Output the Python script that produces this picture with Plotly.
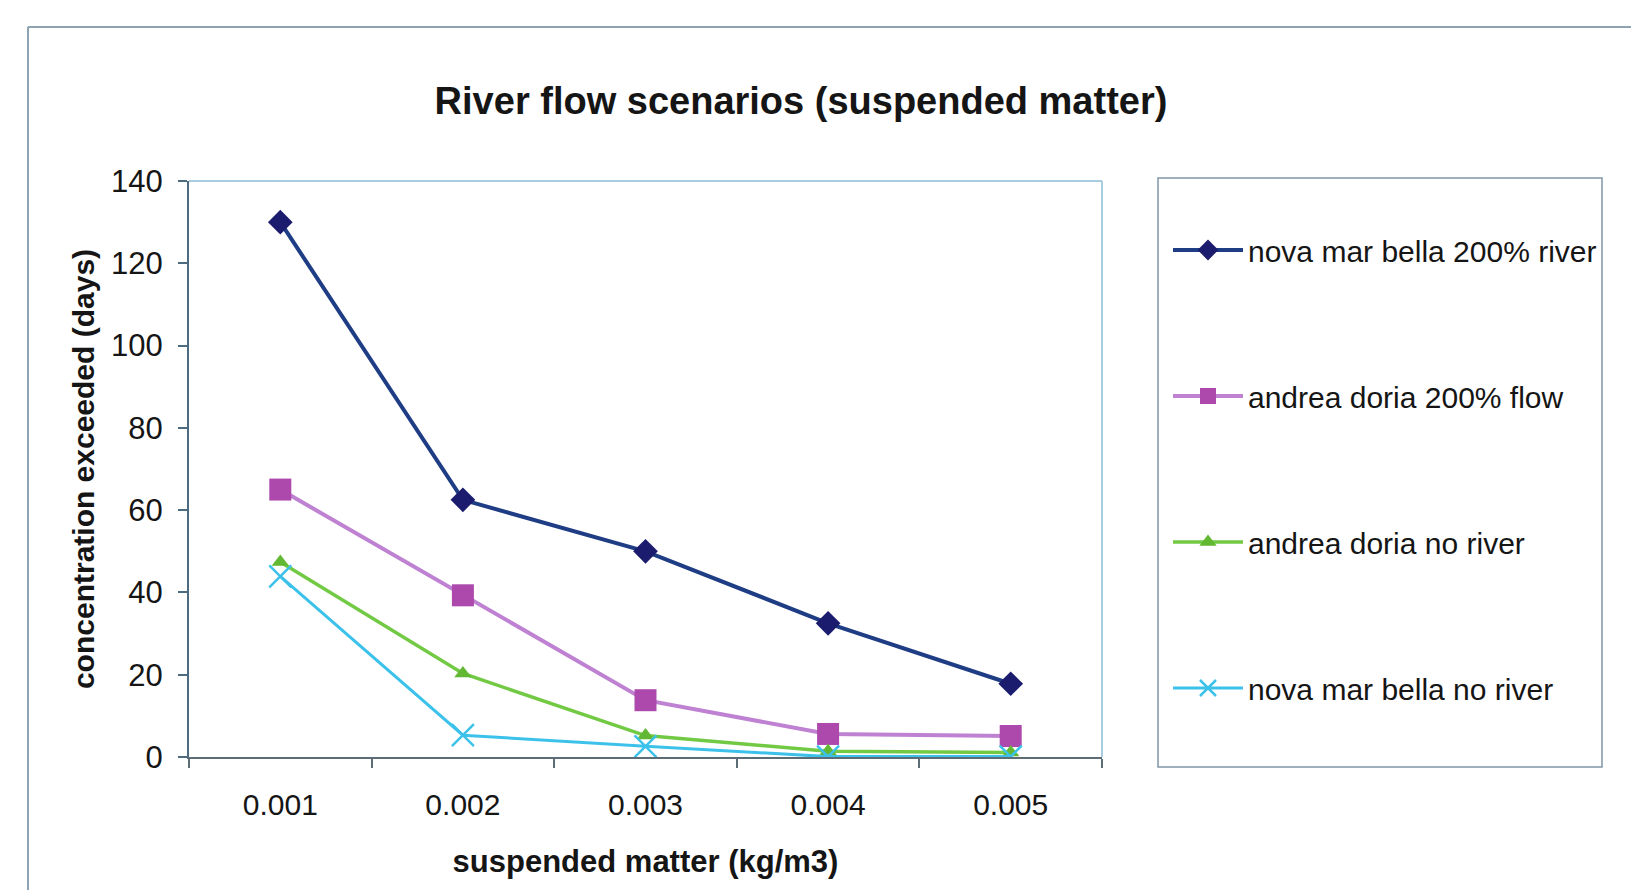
import plotly.graph_objects as go

# Suspended-matter thresholds (kg/m3) on the category axis
thresholds = ["0.001", "0.002", "0.003", "0.004", "0.005"]

# Days on which each concentration threshold is exceeded
nova_200_river = [130, 62.5, 50, 32.5, 17.8]
andrea_200_flow = [65, 39.3, 13.8, 5.6, 5.1]
andrea_no_river = [47.4, 20.3, 5.2, 1.4, 1.1]
nova_no_river = [43.9, 5.3, 2.6, 0.1, 0.1]

series_names = [
    "nova mar bella 200% river",
    "andrea doria 200% flow",
    "andrea doria no river",
    "nova mar bella no river",
]

W, H = 1631, 890
# plot-area edges in pixels
PL, PR, PT, PB = 189, 1102, 181, 757


def fx(px):
    return (px - PL) / (PR - PL)


def fy(py):
    return (PB - py) / (PB - PT)


FONT = "Liberation Sans, Arial, sans-serif"

styles = [
    dict(line=dict(color="#1f3d84", width=4),
         marker=dict(symbol="diamond", size=19, color="#1b1c6e")),
    dict(line=dict(color="#bf82d2", width=4),
         marker=dict(symbol="square", size=22, color="#ad48ad")),
    dict(line=dict(color="#72c944", width=3.5),
         marker=dict(symbol="triangle-up", size=15, color="#62b832")),
    dict(line=dict(color="#3cc2ea", width=3),
         marker=dict(symbol="x-thin", size=22,
                     line=dict(color="#3cc2ea", width=2.5))),
]

fig = go.Figure()
for i, (name, vals) in enumerate(zip(series_names,
                                     [nova_200_river, andrea_200_flow,
                                      andrea_no_river, nova_no_river])):
    fig.add_trace(go.Scatter(
        x=thresholds, y=vals, name=name, mode="lines+markers",
        legendgroup=f"g{i}", **styles[i]))

shapes = [
    # outer chart frame
    dict(type="line", xref="paper", yref="paper",
         x0=fx(28), x1=fx(W + 5), y0=fy(27), y1=fy(27),
         line=dict(color="#8ea3b2", width=2)),
    dict(type="line", xref="paper", yref="paper",
         x0=fx(28), x1=fx(28), y0=fy(27), y1=fy(H + 5),
         line=dict(color="#8ea3b2", width=2)),
    # plot-area border (top and right)
    dict(type="line", xref="paper", yref="paper", layer="below",
         x0=0, x1=1, y0=1, y1=1, line=dict(color="#a9cde0", width=2)),
    dict(type="line", xref="paper", yref="paper", layer="below",
         x0=1, x1=1, y0=0, y1=1, line=dict(color="#a9cde0", width=2)),
    # legend box
    dict(type="rect", xref="paper", yref="paper",
         x0=fx(1158), x1=fx(1602), y0=fy(178), y1=fy(767),
         line=dict(color="#8096a6", width=1.5), fillcolor="rgba(0,0,0,0)"),
]

fig.update_layout(
    width=W, height=H,
    margin=dict(l=PL, r=W - PR, t=PT, b=H - PB, autoexpand=False),
    paper_bgcolor="white", plot_bgcolor="white",
    font=dict(family=FONT, color="#151515"),
    title=dict(text="River flow scenarios (suspended matter)",
               font=dict(size=38, weight="bold", family=FONT),
               x=801 / W, xanchor="center", xref="container",
               y=1 - 101 / H, yanchor="middle", yref="container"),
    showlegend=True,
    legend=dict(x=fx(1168), xanchor="left", y=fy(224), yanchor="top",
                bgcolor="rgba(0,0,0,0)", borderwidth=0,
                font=dict(size=30, family=FONT, color="#151515"),
                tracegroupgap=104, itemwidth=70, traceorder="grouped"),
    shapes=shapes,
    xaxis=dict(
        type="category", range=[-0.5, 4.5],
        showline=True, linecolor="#5d6d78", linewidth=2,
        ticks="outside", tickson="boundaries", ticklen=9,
        tickcolor="#5d6d78", tickwidth=2,
        showgrid=False, zeroline=False,
        tickfont=dict(size=30, family=FONT, color="#151515"),
        ticklabelstandoff=20,
        title=dict(text="suspended matter (kg/m3)", standoff=30,
                   font=dict(size=31, weight="bold", family=FONT)),
    ),
    yaxis=dict(
        range=[0, 140], dtick=20,
        showline=True, linecolor="#4d6b80", linewidth=2,
        ticks="outside", ticklen=9, tickcolor="#4d6b80", tickwidth=2,
        showgrid=False, zeroline=False,
        tickfont=dict(size=31, family=FONT, color="#151515"),
        ticklabelstandoff=9,
        title=dict(text="concentration exceeded (days)", standoff=8,
                   font=dict(size=30, weight="bold", family=FONT)),
    ),
)

fig.write_html("out.html")
